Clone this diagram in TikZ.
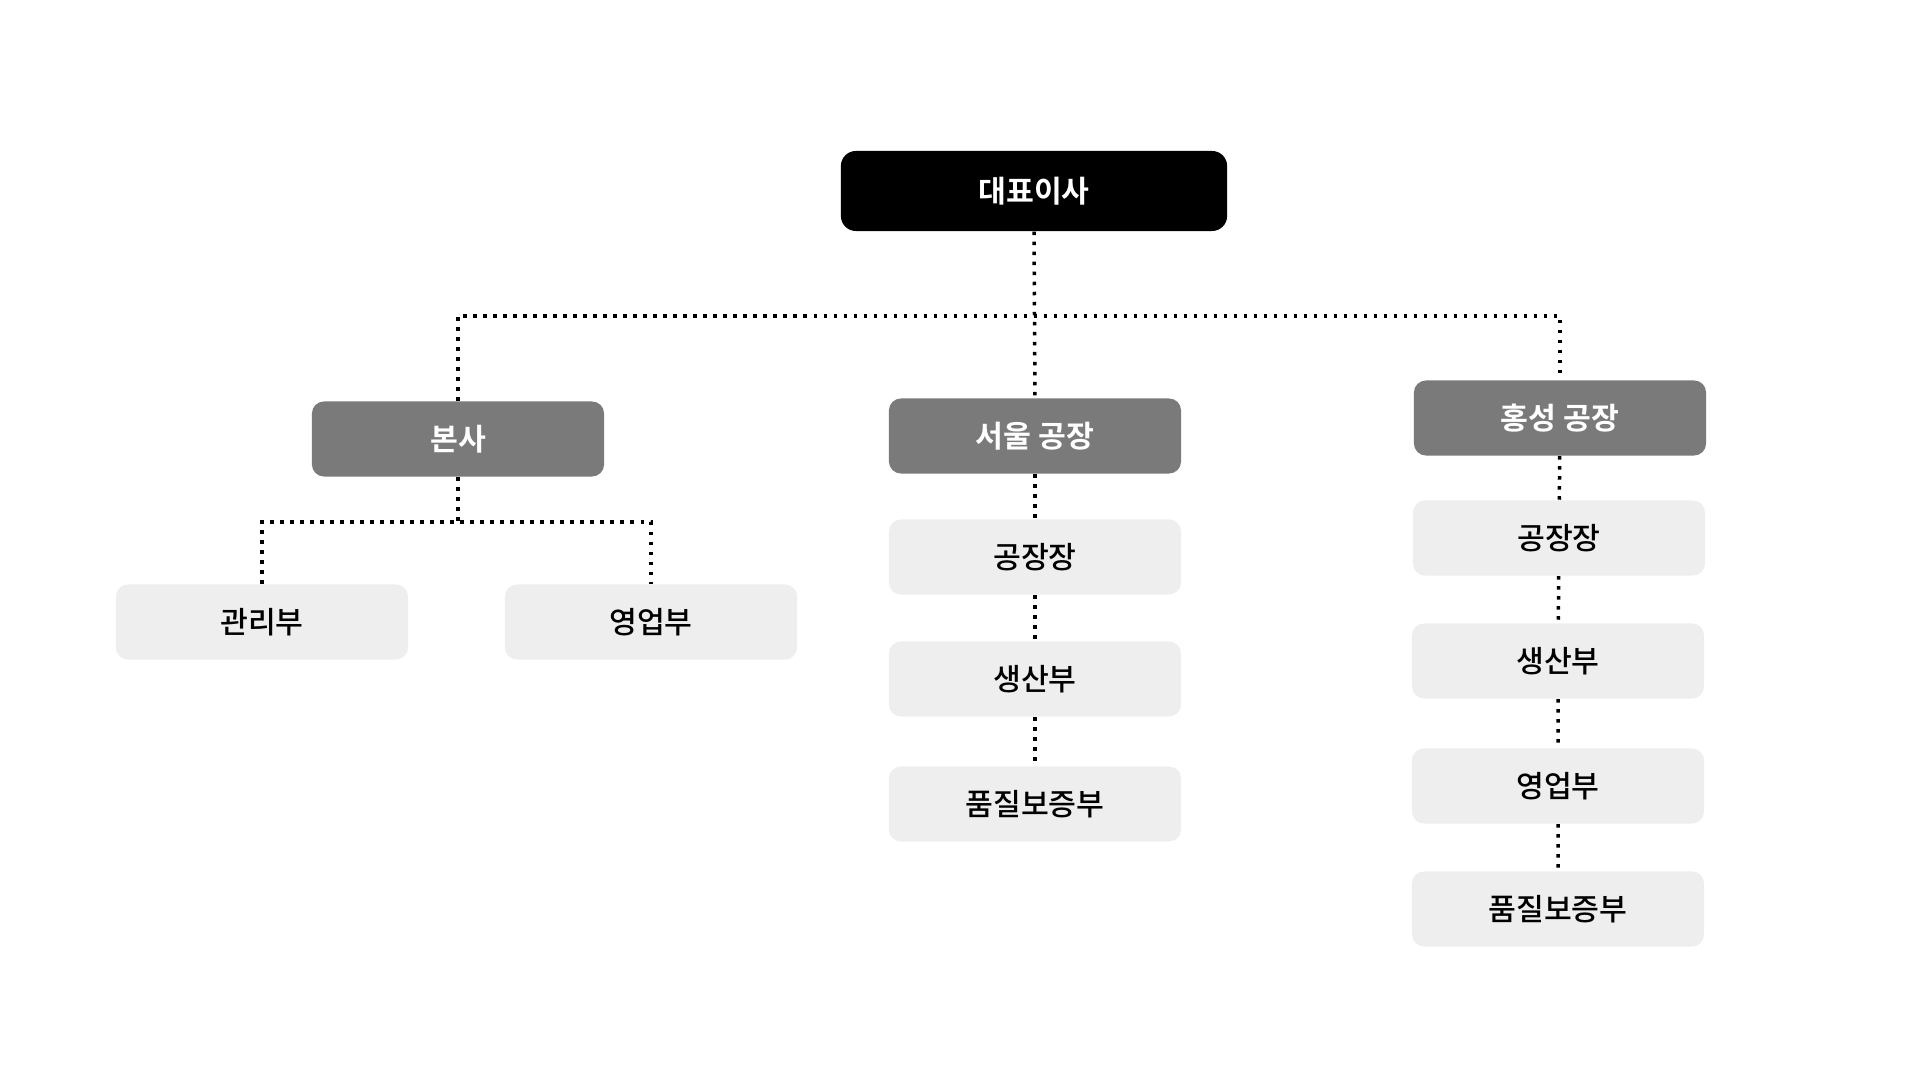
\documentclass[tikz,border=0pt]{standalone}
\usepackage{fontspec}
\newfontfamily\kr{Noto Sans CJK KR}[UprightFont={* Medium},BoldFont={* Bold}]
\definecolor{boxdark}{HTML}{7A7A7A}
\definecolor{boxlight}{HTML}{EEEEEE}
\begin{document}
\begin{tikzpicture}[x=0.01cm,y=-0.01cm,
    top/.style={fill=black,text=white,rounded corners=0.15cm,minimum width=3.86cm,minimum height=0.8cm,font=\kr\bfseries\fontsize{8.6}{10}\selectfont},
    unit/.style={fill=boxdark,text=white,rounded corners=0.12cm,minimum width=2.92cm,minimum height=0.75cm,font=\kr\bfseries\fontsize{8.6}{10}\selectfont},
    dept/.style={fill=boxlight,text=black,rounded corners=0.12cm,minimum width=2.92cm,minimum height=0.75cm,font=\kr\fontsize{8.6}{10}\selectfont},
    link/.style={line width=0.035cm,dash pattern=on 0.035cm off 0.065cm}]
    \useasboundingbox (0,0) rectangle (1920,1080);
    \node[top] (ceo) at (1034,191) {대표이사};
    \node[unit] (hq) at (458,439) {본사};
    \node[unit] (seoul) at (1035,436) {서울 공장};
    \node[unit] (hong) at (1560,418) {홍성 공장};
    \node[dept] (mgmt) at (262,622) {관리부};
    \node[dept] (sales) at (651,622) {영업부};
    \node[dept] (sfact) at (1035,557) {공장장};
    \node[dept] (sprod) at (1035,679) {생산부};
    \node[dept] (sqa) at (1035,804) {품질보증부};
    \node[dept] (hfact) at (1559,538) {공장장};
    \node[dept] (hprod) at (1558,661) {생산부};
    \node[dept] (hsales) at (1558,786) {영업부};
    \node[dept] (hqa) at (1558,909) {품질보증부};
    \coordinate (bar) at (1035,316);
    \coordinate (sub) at (458,522);
    \draw[link] (ceo.south) -- (seoul.north);
    \draw[link] (hq.north) |- (bar) -| (hong.north);
    \draw[link] (hq.south) -- (sub);
    \draw[link] (mgmt.north) |- (sub) -| (sales.north);
    \draw[link] (seoul) -- (sfact) -- (sprod) -- (sqa);
    \draw[link] (hong) -- (hfact) -- (hprod) -- (hsales) -- (hqa);
\end{tikzpicture}
\end{document}
